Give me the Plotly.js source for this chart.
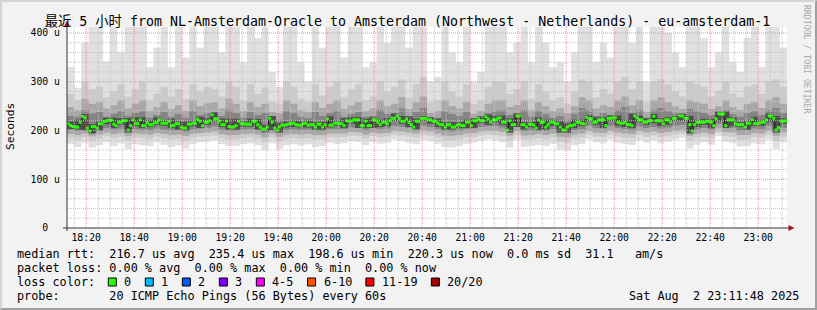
<!DOCTYPE html>
<html><head><meta charset="utf-8">
<script src="https://cdn.plot.ly/plotly-3.0.1.min.js"></script>
<style>
html,body{margin:0;padding:0;background:#f2f2f2;}
#wrap{position:relative;width:817px;height:310px;overflow:hidden;}
#chart{position:absolute;left:0;top:0;width:817px;height:310px;}
#frame{position:absolute;left:0;top:0;width:817px;height:310px;box-sizing:border-box;border-top:2px solid #d4d4d4;border-left:2px solid #d4d4d4;border-right:2px solid #a0a0a0;border-bottom:2px solid #a0a0a0;pointer-events:none;}
</style></head>
<body><div id="wrap"><div id="chart"></div><div id="frame"></div></div>
<script>
// ---------- data (values in microseconds) ----------
const startTime = Date.UTC(2025, 7, 2, 18, 12);   // first minute shown
const medianStepMin = 1;   // one median per minute
const smokeStepMin = 3;    // smoke read in 3-minute columns

const medianRtt = [
 214,210,208,207,207,217,229,226,205,199,208,208,205,214,214,218,220,221,221,213,
 210,217,217,220,220,201,210,222,214,214,222,210,210,216,212,212,216,216,222,215,
 215,215,219,210,210,214,214,207,205,205,213,213,215,215,223,219,210,217,217,220,
 232,224,224,219,212,212,219,208,207,207,210,219,214,214,213,213,213,219,219,212,
 207,203,203,207,225,217,205,201,207,211,211,212,214,214,215,212,211,211,214,215,
 211,212,212,207,213,213,207,212,224,211,211,215,215,214,214,210,220,219,219,222,
 222,222,210,210,219,210,210,222,222,217,212,217,217,214,220,225,225,230,225,219,
 219,224,217,212,207,219,219,225,225,225,222,222,219,219,215,212,212,207,212,212,
 207,207,211,212,210,210,217,217,210,220,220,224,220,220,228,224,217,222,222,225,
 226,217,217,201,220,212,212,230,230,212,212,207,213,213,211,205,222,217,217,207,
 212,217,217,214,214,207,201,201,207,210,210,212,217,217,214,214,227,224,224,217,
 217,222,222,222,210,225,225,226,226,217,215,215,217,212,212,210,230,226,222,222,
 217,217,220,220,229,220,220,220,214,222,222,217,225,225,null,230,230,225,225,212,
 199,212,217,217,217,217,219,219,217,210,224,234,234,234,210,222,222,222,214,212,
 212,212,207,215,215,223,214,214,215,217,217,222,230,230,225,201,206,219,219,220
];

const smokeMax = [
 330,287,380,415,415,342,415,360,415,415,415,330,370,415,330,415,350,415,370,415,
 415,360,415,415,340,415,390,415,320,290,415,415,340,300,415,370,415,415,350,415,
 415,330,340,415,380,415,415,370,415,415,300,310,415,360,340,415,300,320,415,415,
 415,360,380,415,340,415,380,330,340,300,360,415,415,340,380,350,415,415,380,415,
 300,415,415,400,360,330,415,415,390,330,360,415,340,320,390,415,330,415,415,370
];
const smokeHi2 = [
 275,262,300,285,290,268,280,295,270,285,300,262,275,290,270,285,265,295,280,290,
 285,270,300,290,262,295,275,288,260,255,300,290,265,258,295,272,290,300,268,285,
 295,262,270,300,280,290,305,268,295,310,258,262,300,280,270,295,255,262,290,300,
 300,275,285,300,265,295,280,262,268,255,280,305,300,268,285,275,300,310,285,300,
 258,300,305,295,280,270,300,295,290,270,282,300,275,268,290,295,275,300,305,290
];
const smokeHi3 = [
 248,242,265,255,258,245,252,262,245,255,262,240,248,258,244,252,240,262,250,256,
 258,245,265,255,240,258,248,255,238,236,262,255,242,238,258,246,255,262,244,252,
 258,240,245,262,250,255,268,244,258,270,236,240,262,250,245,258,235,240,255,262,
 262,248,252,262,242,258,250,240,245,236,250,268,262,245,252,248,262,270,252,262,
 238,262,268,258,250,244,262,258,255,244,250,262,248,242,255,258,246,262,268,255
];
const smokeHi4 = [
 230,228,242,235,238,228,234,240,230,236,240,226,232,238,228,234,226,240,232,236,
 238,230,242,236,226,238,232,236,224,222,240,236,228,225,238,230,236,240,228,234,
 238,228,230,242,234,236,245,230,238,246,224,226,240,234,230,238,222,226,236,240,
 242,232,236,242,228,240,234,226,230,222,234,246,242,230,236,232,242,248,236,242,
 226,242,246,240,236,232,244,240,236,232,234,242,234,228,236,240,232,242,246,236
];
const smokeHi5 = [
 219,222,234,213,219,226,226,225,225,227,227,221,227,220,224,219,218,220,228,225,
 237,224,224,224,219,224,224,212,230,216,219,220,219,220,218,218,229,220,225,227,
 227,224,227,222,225,235,230,229,224,230,227,224,217,217,217,222,225,229,233,230,
 231,225,235,217,218,227,222,222,219,215,222,222,232,227,227,231,231,222,235,231,
 225,234,225,227,230,235,230,222,224,224,239,239,227,217,220,228,222,235,230,225
];
const smokeLo5 = [
 203,202,200,194,200,213,205,212,196,209,205,207,211,210,205,202,200,208,205,212,
 219,207,202,202,208,208,202,198,200,196,206,207,206,206,202,202,206,209,205,214,
 205,205,205,207,209,220,214,207,202,220,214,207,202,202,205,205,205,215,212,217,
 212,196,207,202,206,200,202,209,196,196,205,209,219,212,205,220,210,207,205,217,
 212,215,209,212,220,220,194,207,212,205,219,205,209,207,202,209,210,217,196,214
];
const smokeLo4 = [
 202,200,203,198,201,205,202,204,198,203,202,201,204,202,200,201,198,202,204,205,
 208,202,200,200,202,203,201,195,203,196,201,202,201,202,200,200,203,203,203,206,
 205,201,205,203,204,210,207,205,203,210,207,203,199,198,200,203,204,207,209,209,
 206,198,208,199,200,202,200,203,196,195,201,203,210,205,204,210,205,203,202,208,
 205,207,204,206,210,212,198,202,205,202,214,206,205,200,200,204,203,210,198,205
];
const smokeLo3 = [
 193,191,194,188,192,196,193,195,189,194,193,192,195,193,191,192,189,193,195,196,
 198,193,191,191,193,194,192,186,194,187,192,193,192,193,191,191,194,194,194,197,
 196,192,196,194,195,200,198,196,194,200,198,194,190,189,191,194,195,198,200,200,
 197,189,199,190,191,193,191,194,187,186,192,194,200,196,195,200,196,194,193,199,
 196,198,195,197,200,202,189,193,196,193,204,197,196,191,191,195,194,200,189,196
];
const smokeLo2 = [
 184,180,186,178,183,188,184,187,179,185,184,182,187,184,181,183,178,184,187,188,
 190,184,181,182,184,186,183,176,186,177,183,184,183,184,181,182,186,185,186,189,
 188,183,188,185,187,192,190,187,185,192,190,185,180,179,182,185,186,190,192,191,
 188,180,191,181,182,184,182,185,177,175,183,185,192,187,186,192,187,185,184,191,
 187,190,186,188,192,194,179,184,187,184,196,188,187,181,182,186,185,192,178,187
];
const smokeMin = [
 172,166,175,165,170,176,168,174,162,172,170,168,176,171,166,170,163,172,176,177,
 180,172,168,168,172,174,170,160,174,162,170,172,169,172,166,168,175,172,174,178,
 177,170,176,173,175,182,179,175,172,181,178,173,166,165,168,173,175,179,182,180,
 176,165,181,166,168,171,168,173,161,160,170,173,182,176,174,182,175,173,171,180,
 175,180,174,177,182,185,163,171,176,171,188,177,175,167,168,174,172,182,162,176
];

const xTickLabels = ['18:20','18:40','19:00','19:20','19:40','20:00','20:20','20:40',
                     '21:00','21:20','21:40','22:00','22:20','22:40','23:00'];
const yTickVals = [0, 100, 200, 300, 400];
const yTickText = ['0\u00a0\u00a0', '100 u', '200 u', '300 u', '400 u'];

const titleText = '最近 5 小时 from NL-Amsterdam-Oracle to Amsterdam (Northwest - Netherlands) - eu-amsterdam-1';
const statLines = [
  'median rtt:  216.7 us avg  235.4 us max  198.6 us min  220.3 us now  0.0 ms sd  31.1   am/s',
  'packet loss: 0.00 % avg  0.00 % max  0.00 % min  0.00 % now',
  'loss color:',
  'probe:       20 ICMP Echo Pings (56 Bytes) every 60s'
];
const dateText = 'Sat Aug  2 23:11:48 2025';
const lossLabels = ['0','1','2','3','4-5','6-10','11-19','20/20'];
const lossColors = ['#26ff00','#00b8ff','#0059ff','#7e00ff','#ff00ff','#ff5500','#ff0000','#a10000'];
const bandColors = ['#e0e0e0','#cbcbcb','#a8a8a8','#848484','#4e4e4e'];

// ---------- geometry helpers (layout only) ----------
const W = 817, H = 310, ML = 67, MR = 30, MT = 27, MB = 82;
const PW = W - ML - MR, PH = H - MT - MB, PBOT = H - MB;
const px2x = px => (px - ML) / PW;
const py2y = py => (PBOT - py) / PH;
const MIN = 60000;
const endTime = startTime + medianRtt.length * medianStepMin * MIN;
const nb = s => s.replace(/ /g, '\u00a0');
const FONT = 'DejaVu Sans Mono';

// ---------- traces ----------
const ext = a => a.concat([a[a.length - 1]]);
const smokeT = Array.from({length: smokeMax.length + 1}, (_, k) => startTime + k * smokeStepMin * MIN);
const medT = Array.from({length: medianRtt.length + 1}, (_, i) => startTime + i * medianStepMin * MIN);
const medMid = medianRtt.map((_, i) => startTime + (i + 0.5) * medianStepMin * MIN);

const traces = [];
const bands = [[smokeMin, smokeMax], [smokeLo2, smokeHi2], [smokeLo3, smokeHi3],
               [smokeLo4, smokeHi4], [smokeLo5, smokeHi5]];
bands.forEach((b, i) => {
  traces.push({x: smokeT, y: ext(b[0]), mode: 'lines', line: {width: 0, shape: 'hv'}, hoverinfo: 'skip'});
  traces.push({x: smokeT, y: ext(b[1]), mode: 'lines', line: {width: 0, shape: 'hv'},
               fill: 'tonexty', fillcolor: bandColors[i], hoverinfo: 'skip'});
});
traces.push({x: medT, y: ext(medianRtt), mode: 'lines', connectgaps: false,
             line: {shape: 'hv', width: 1, color: '#202020'}, hoverinfo: 'skip'});
traces.push({x: medMid, y: medianRtt, mode: 'markers',
             marker: {symbol: 'square', size: 3, color: lossColors[0], line: {width: 0}}});

// ---------- tick positions from labels ----------
const dayStart = Date.UTC(2025, 7, 2);
const xTickVals = xTickLabels.map(s => { const p = s.split(':'); return dayStart + (+p[0] * 60 + +p[1]) * MIN; });

// ---------- shapes: grid, axes, arrows, legend boxes ----------
const shapes = [];
for (let t = startTime + 3 * MIN; t < endTime; t += 5 * MIN) {
  const major = (new Date(t).getUTCMinutes() % 20) === 0;
  shapes.push({type: 'line', xref: 'x', yref: 'paper', x0: t, x1: t, y0: 0, y1: 1, layer: 'above',
               line: {color: major ? '#ec8c8c' : '#c4c4c4', width: 1, dash: '1px,1px'}});
}
for (let v = 20; v <= 400; v += 20) {
  const major = v % 100 === 0;
  shapes.push({type: 'line', xref: 'paper', yref: 'y', x0: 0, x1: 1, y0: v, y1: v, layer: 'above',
               line: {color: major ? '#ec8c8c' : '#c4c4c4', width: 1, dash: '1px,1px'}});
}
shapes.push({type: 'line', xref: 'paper', yref: 'paper', x0: px2x(63), x1: px2x(789), y0: 0, y1: 0,
             layer: 'above', line: {color: '#333', width: 1}});
shapes.push({type: 'line', xref: 'paper', yref: 'paper', x0: 0, x1: 0, y0: py2y(231), y1: py2y(25),
             layer: 'above', line: {color: '#333', width: 1}});
shapes.push({type: 'path', xref: 'paper', yref: 'paper', layer: 'above', fillcolor: '#a01818', line: {width: 0},
             path: `M ${px2x(788.5)} ${py2y(225)} L ${px2x(794.5)} ${py2y(228)} L ${px2x(788.5)} ${py2y(231)} Z`});
shapes.push({type: 'path', xref: 'paper', yref: 'paper', layer: 'above', fillcolor: '#a01818', line: {width: 0},
             path: `M ${px2x(64)} ${py2y(26.5)} L ${px2x(67)} ${py2y(20.5)} L ${px2x(70)} ${py2y(26.5)} Z`});

const annotations = [];
const CW = 7.11;
const rowY = [254, 268, 282, 296];
statLines.forEach((s, i) => annotations.push({
  xref: 'paper', yref: 'paper', x: px2x(16), y: py2y(rowY[i]), xanchor: 'left', yanchor: 'middle',
  text: nb(s), showarrow: false, borderpad: 0, font: {family: FONT, size: 11.8, color: '#000'}}));
annotations.push({xref: 'paper', yref: 'paper', x: px2x(800), y: py2y(296), xanchor: 'right', yanchor: 'middle',
  text: nb(dateText), showarrow: false, borderpad: 0, font: {family: FONT, size: 11.8, color: '#000'}});

let bx = 108.3;
lossLabels.forEach((lab, i) => {
  shapes.push({type: 'rect', xref: 'paper', yref: 'paper', x0: px2x(bx), x1: px2x(bx + 8), y0: py2y(286), y1: py2y(278),
               fillcolor: lossColors[i], line: {color: '#000', width: 1}, layer: 'above'});
  annotations.push({xref: 'paper', yref: 'paper', x: px2x(bx + 15), y: py2y(282), xanchor: 'left', yanchor: 'middle',
    text: lab, showarrow: false, borderpad: 0, font: {family: FONT, size: 11.8, color: '#000'}});
  bx = bx + 15 + lab.length * CW + 14.9;
});

annotations.push({xref: 'paper', yref: 'paper', x: px2x(11), y: py2y(127), xanchor: 'center', yanchor: 'middle',
  text: 'Seconds', textangle: -90, showarrow: false, borderpad: 0, font: {family: FONT, size: 11.2, color: '#000'}});
annotations.push({xref: 'paper', yref: 'paper', x: px2x(807), y: py2y(60), xanchor: 'center', yanchor: 'middle',
  text: 'RRDTOOL / TOBI OETIKER', textangle: 90, showarrow: false, borderpad: 0,
  font: {family: FONT, size: 8.2, color: '#a8a8a8'}});

const layout = {
  width: W, height: H,
  margin: {l: ML, r: MR, t: MT, b: MB, pad: 0},
  paper_bgcolor: '#f2f2f2', plot_bgcolor: '#ffffff',
  showlegend: false,
  title: {text: titleText, x: 407.5 / W, y: 1 - 21 / H, xref: 'container', yref: 'container',
          xanchor: 'center', yanchor: 'middle',
          font: {family: FONT + ', Noto Sans CJK SC', size: 13.3, color: '#000'}},
  xaxis: {type: 'date', range: [startTime, endTime], showgrid: false, zeroline: false, showline: false,
          tickvals: xTickVals, ticktext: xTickLabels, ticks: '', ticklabelstandoff: 2,
          tickfont: {family: FONT, size: 9.8, color: '#000'}, fixedrange: true},
  yaxis: {range: [0, PH / 0.4875], showgrid: false, zeroline: false, showline: false,
          tickvals: yTickVals, ticktext: yTickText, ticks: '', ticklabelstandoff: 6,
          tickfont: {family: FONT, size: 9.8, color: '#000'}, fixedrange: true},
  shapes: shapes, annotations: annotations
};

Plotly.newPlot('chart', traces, layout, {staticPlot: true, displayModeBar: false});
</script></body></html>
